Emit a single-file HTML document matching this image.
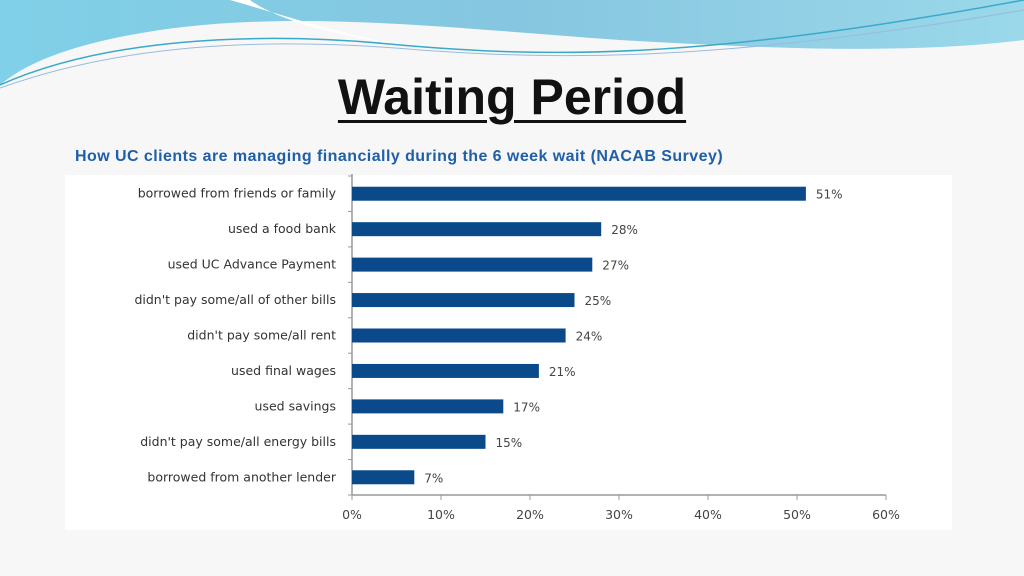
<!DOCTYPE html>
<html><head><meta charset="utf-8"><style>
body{margin:0;width:1024px;height:576px;overflow:hidden;background:#f7f7f7;font-family:"Liberation Sans",sans-serif;position:relative}
#bg{position:absolute;left:0;top:0}
h1{position:absolute;left:0;width:1024px;top:68px;margin:0;text-align:center;font:bold 50px "Liberation Sans",sans-serif;color:#111}
h1 span{text-decoration:underline;text-decoration-thickness:3px;text-underline-offset:6px}
.sub{position:absolute;left:75px;top:148px;font-weight:bold;font-size:16px;letter-spacing:0.45px;color:#1f5fa8;white-space:nowrap}
#chart{position:absolute;left:0;top:0;font-family:"DejaVu Sans",sans-serif}
</style></head><body>
<svg id="bg" width="1024" height="576">
<defs><linearGradient id="g" x1="0" y1="0" x2="1" y2="0"><stop offset="0" stop-color="#7fd0e8"/><stop offset="0.5" stop-color="#86c6e0"/><stop offset="1" stop-color="#9ad8ea"/></linearGradient></defs>
<path d="M0,0 H1024 V40 C900,55 760,48 620,40 C450,28 300,10 160,30 C80,42 30,60 0,85 Z" fill="url(#g)"/>
<path d="M230,0 C300,20 360,40 420,48 C320,35 270,15 250,0 Z" fill="#fff"/>
<path d="M0,85 C100,40 250,30 400,45 C550,58 700,60 1024,0" fill="none" stroke="#3aa9c9" stroke-width="1.5"/>
<path d="M0,88 C120,45 260,36 420,50 C560,60 720,62 1024,10" fill="none" stroke="#9bd" stroke-width="1"/>
</svg>
<h1><span>Waiting Period</span></h1>
<div class="sub">How UC clients are managing financially during the 6 week wait (NACAB Survey)</div>
<svg id="chart" width="1024" height="576"></svg>
<script>
const categories=["borrowed from friends or family","used a food bank","used UC Advance Payment","didn't pay some/all of other bills","didn't pay some/all rent","used final wages","used savings","didn't pay some/all energy bills","borrowed from another lender"];
const values=[51,28,27,25,24,21,17,15,7];
const ticks=[0,10,20,30,40,50,60];
const NS="http://www.w3.org/2000/svg";
const svg=document.getElementById('chart');
const x0=352,x1=886,yTop=176,yBot=495;
const xs=v=>x0+(v/60)*(x1-x0);
const band=(yBot-yTop)/categories.length;
const yc=i=>yTop+band*(i+0.5);
function mk(t,a){const e=document.createElementNS(NS,t);for(const k in a)e.setAttribute(k,a[k]);svg.appendChild(e);return e;}
const panel=mk('rect',{x:65,y:175,width:887,height:355,fill:'#fff'});


const ya=mk('line',{x1:x0,y1:yTop-2,x2:x0,y2:yBot,stroke:'#999','stroke-width':1.5});


const xa=mk('line',{x1:x0,y1:yBot,x2:x1,y2:yBot,stroke:'#999','stroke-width':1.5});


for(let i=0;i<=categories.length;i++){const y=yTop+band*i;mk('line',{x1:x0-4,y1:y,x2:x0,y2:y,stroke:'#999'});}
ticks.forEach(t=>{
 mk('line',{x1:xs(t),y1:yBot,x2:xs(t),y2:yBot+5,stroke:'#999'});
 const tl=mk('text',{x:xs(t),y:yBot+24,'text-anchor':'middle','font-size':12.5,fill:'#444'});
 tl.textContent=t+'%';
 
 
});
categories.forEach((c,i)=>{
 const l=mk('text',{x:336,y:yc(i)+4,'text-anchor':'end','font-size':12.5,fill:'#333'});
 l.textContent=c;
 
 
 const b=mk('rect',{x:x0,y:yc(i)-7,width:xs(values[i])-x0,height:14,fill:'#0b4a8a'});
 
 
 const v=mk('text',{x:xs(values[i])+10,y:yc(i)+5,'font-size':12,fill:'#444'});
 v.textContent=values[i]+'%';
 
 
});
</script>
</body></html>
